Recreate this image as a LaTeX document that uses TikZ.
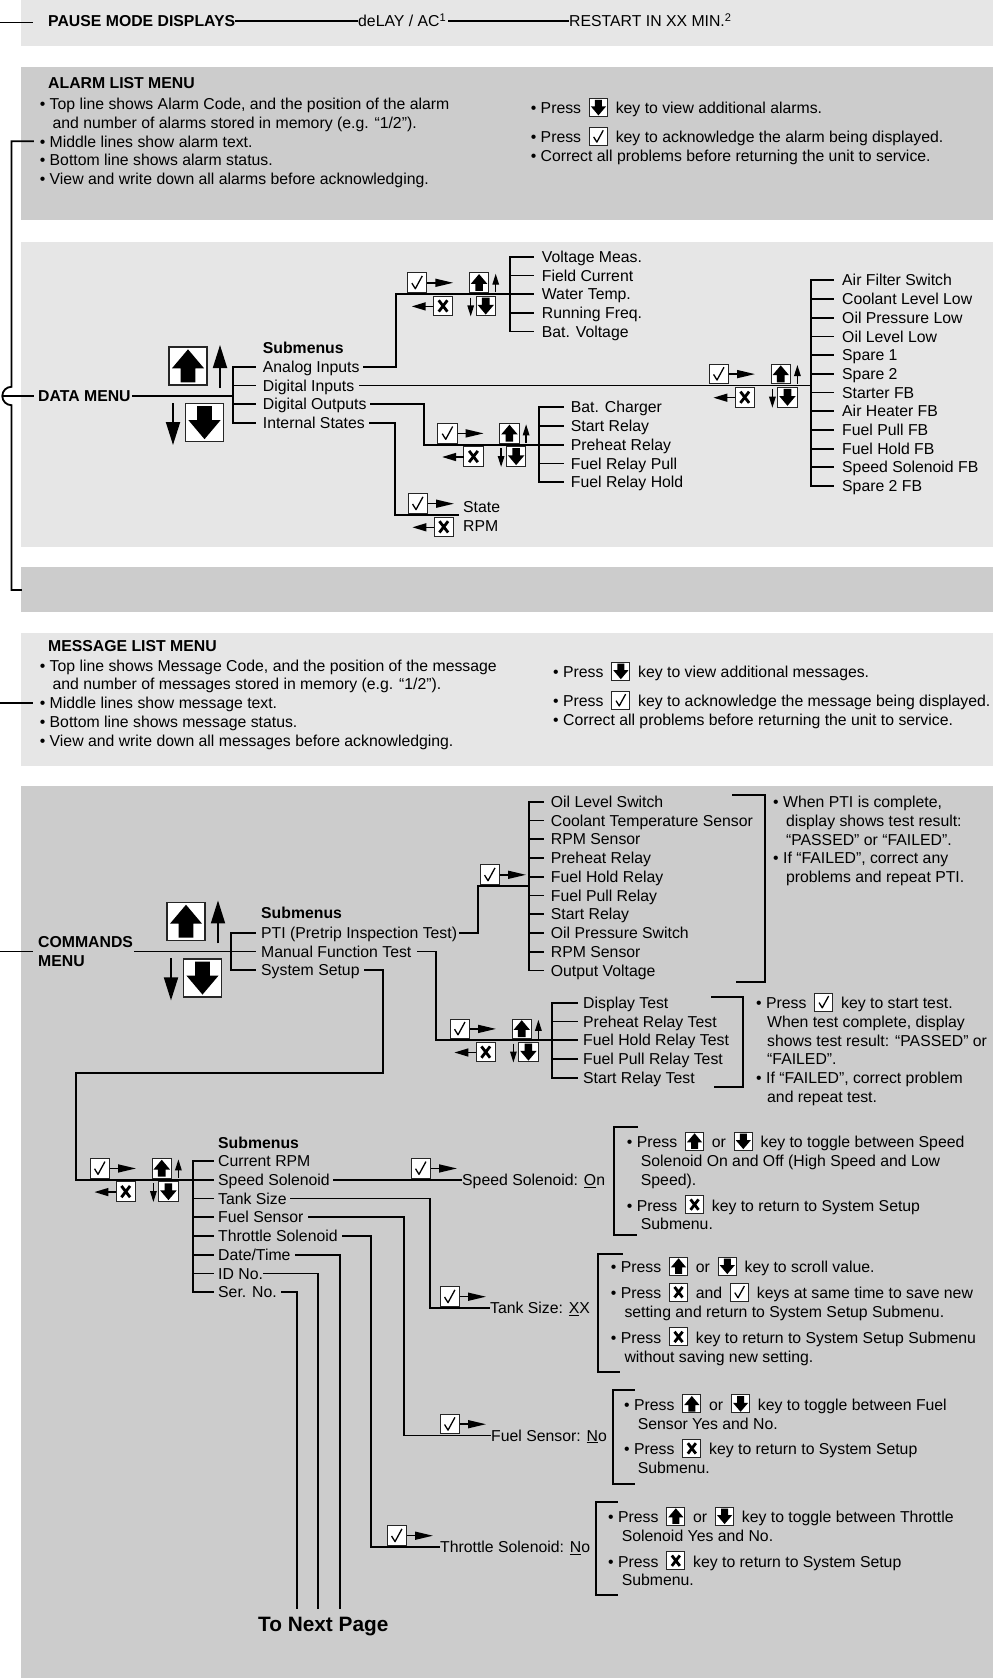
\documentclass[tikz,border=0pt]{standalone}
\usepackage{fontspec}
\setmainfont{Liberation Sans}
\usepackage{tikz}
\usetikzlibrary{arrows.meta}
\usepackage{xcolor}
\definecolor{PanelLight}{HTML}{E6E6E6}
\definecolor{PanelDark}{HTML}{CCCCCC}
\setlength{\parindent}{0pt}
\newcommand\basefont{\fontsize{15.8}{18.7}\selectfont}

% key faces, drawn in an 18x18 box with y upwards
\newcommand\faceup{\fill (9,16.9) -- (16.6,7.9) -- (12.5,7.9) -- (12.5,1.3) -- (5.5,1.3) -- (5.5,7.9) -- (1.4,7.9) -- cycle;}
\newcommand\facedown{\fill (9,1.1) -- (16.6,10.1) -- (12.5,10.1) -- (12.5,16.7) -- (5.5,16.7) -- (5.5,10.1) -- (1.4,10.1) -- cycle;}
\newcommand\faceok{\draw[line width=1.3pt,line join=round] (4.2,8.6) -- (7.4,3.4) -- (13.8,15.2);}
\newcommand\faceno{\draw[line width=2.8pt] (5,3.8) -- (13,14.2) (5,14.2) -- (13,3.8);}

% key inside running text
\newcommand\kbox[1]{\hspace{3.5pt}\smash{\tikz[x=1pt,y=1pt,baseline=2.6pt]{%
  \filldraw[fill=white,draw=black!85,line width=0.9pt] (0,0) rectangle (18,18); #1}}\hspace{3.5pt}}

% key in the chart: [frame], x and y of lower left corner, size, face
\newcommand\keyat[5][1pt]{\begin{scope}[shift={(#2,#3)},yscale=-1,scale=#4/18]
  \filldraw[fill=white,draw=black!85,line width=#1] (0,0) rectangle (18,18); #5
  \end{scope}}

% key groups on a line: left edge of the check key, y of the line
\newcommand\okkey[2]{\keyat{#1}{#2-1.7}{19.5}{\faceok}
  \draw[tiph] (#1+20,#2-11.3) -- (#1+46,#2-11.3);}
\newcommand\okexit[2]{\okkey{#1}{#2}
  \keyat{#1+26}{#2+21.6}{19.5}{\faceno}
  \draw[tiph,-{Triangle[length=14pt,width=8pt]}] (#1+26,#2+12.3) -- (#1+4.4,#2+12.3);}
\newcommand\navkeys[2]{\okexit{#1}{#2}
  \keyat{#1+62}{#2-1.7}{19.5}{\faceup}
  \draw[tipv] (#1+88.4,#2-1.7) -- (#1+88.4,#2-20.4);
  \draw[tipv] (#1+63.4,#2+3.5) -- (#1+63.4,#2+22.3);
  \keyat{#1+68.7}{#2+21.6}{19.5}{\facedown}}
\newcommand\bigkeys[2]{\keyat[1.5pt]{#1}{#2-11}{38}{\faceup}
  \draw[bigtip] (#1+51,#2-8) -- (#1+51,#2-51);
  \draw[bigtip] (#1+4,#2+7) -- (#1+4,#2+49);
  \keyat[1.5pt]{#1+16.5}{#2+45.5}{38}{\facedown}}

\begin{document}
\begin{tikzpicture}[x=1pt, y=-1pt, font=\basefont,
   wire/.style={line width=1.8pt, line cap=rect},
   thinwire/.style={line width=1.3pt},
   lbl/.style={anchor=west, inner sep=0pt, text height=11.3pt, text depth=0pt},
   head/.style={lbl, font=\basefont\bfseries},
   para/.style={anchor=north west, inner sep=0pt, align=left},
   tiph/.style={line width=1.5pt, -{Triangle[length=18pt,width=8pt]}},
   tipv/.style={line width=1.3pt, -{Triangle[length=11pt,width=6.5pt]}},
   bigtip/.style={line width=1.8pt, -{Triangle[length=23pt,width=14pt]}}]
  \useasboundingbox (0,0) rectangle (997,1678);
  % panels
  \fill[PanelLight] (21,0) rectangle (993,46);
  \fill[PanelDark] (21,67) rectangle (993,220);
  \fill[PanelLight] (21,242) rectangle (993,547);
  \fill[PanelDark] (21,567) rectangle (993,612);
  \fill[PanelLight] (21,633) rectangle (993,766);
  \fill[PanelDark] (21,786) rectangle (993,1678);

  % pause mode
  \node[head] (pause) at (48,21) {PAUSE MODE DISPLAYS};
  \node[lbl] (delay) at (358,21) {deLAY / AC\textsuperscript{1}};
  \node[lbl] (restart) at (569,21) {RESTART IN XX MIN.\textsuperscript{2}};
  \coordinate (pauseIn) at (0,22.5);
  \draw[thinwire] (pauseIn) -- ++(33,0);
  \draw[thinwire] (pause.east) -- (delay.west);
  \draw[thinwire] (delay.east) ++(2,0) -- (restart.west);

  % alarm list
  \node[head] (alarm) at (48,82.4) {ALARM LIST MENU};
  \node[para] (alarmtxt) at (39.6,96.4) {\strut• Top line shows Alarm Code, and the position of the alarm\\
    \hspace*{12.8pt}and number of alarms stored in memory (e.g. “1/2”).\\
    • Middle lines show alarm text.\\
    • Bottom line shows alarm status.\\
    • View and write down all alarms before acknowledging.};
  \node[para] (alarmkeys) at (530.6,100.6) {\strut• Press \kbox{\facedown} key to view additional alarms.\\[10.3pt]
    • Press \kbox{\faceok} key to acknowledge the alarm being displayed.\\
    • Correct all problems before returning the unit to service.};
  \coordinate (alarmIn) at (33,141.2);
  \coordinate (hop) at (2.5,396);
  \coordinate (gapIn) at (21,590);
  \draw[wire] (alarmIn) -- (11.5,141.2) -- (11.5,386.8) arc[start angle=270,end angle=90,radius=9.2]
    -- (11.5,590) -- (gapIn);

  % data menu
  \node[head] (data) at (38,396) {DATA MENU};
  \draw[wire] (hop) -- ([xshift=-5pt]data.west);
  \bigkeys{169}{396}
  \node[head] (datasub) at (262.7,348) {Submenus};
  \foreach \t [count=\i] in {Analog Inputs,Digital Inputs,Digital Outputs,Internal States}
    \node[lbl] (dm\i) at (262.7,348+18.7*\i) {\t};
  \coordinate (dmBar) at ([xshift=-30pt]dm1.west);
  \draw[wire] (dmBar) -- (dmBar |- dm4.west);
  \foreach \i in {1,...,4} \draw[wire] (dmBar |- dm\i.west) -- ([xshift=-7.7pt]dm\i.west);
  \draw[wire] (data.east) ++(2,0) -- (dmBar |- data.east);

  \foreach \t [count=\i] in {Voltage Meas.,Field Current,Water Temp.,Running Freq.,Bat. Voltage}
    \node[lbl] (an\i) at (541.7,238+18.7*\i) {\t};
  \coordinate (anBar) at ([xshift=-31.7pt]an1.west);
  \draw[wire] (anBar) -- (anBar |- an5.west);
  \foreach \i in {1,...,5} \draw[wire] (anBar |- an\i.west) -- ([xshift=-8.7pt]an\i.west);
  \draw[wire] (dm1.east) ++(4,0) -| ([xshift=-146pt]an3.west) -- (anBar |- an3.west);
  \navkeys{407.3}{294.1}

  \foreach \t [count=\i] in {Air Filter Switch,Coolant Level Low,Oil Pressure Low,Oil Level Low,Spare 1,Spare 2,Starter FB,Air Heater FB,Fuel Pull FB,Fuel Hold FB,Speed Solenoid FB,Spare 2 FB}
    \node[lbl] (di\i) at (842,261.6+18.7*\i) {\t};
  \coordinate (diBar) at ([xshift=-31pt]di1.west);
  \draw[wire] (diBar) -- (diBar |- di12.west);
  \foreach \i in {1,...,12} \draw[wire] (diBar |- di\i.west) -- ([xshift=-9pt]di\i.west);
  \draw[wire] (dm2.east) ++(5,0) -- (diBar |- dm2.east);
  \navkeys{709}{385.4}

  \foreach \t [count=\i] in {Bat. Charger,Start Relay,Preheat Relay,Fuel Relay Pull,Fuel Relay Hold}
    \node[lbl] (do\i) at (570.7,388.6+18.7*\i) {\t};
  \coordinate (doBar) at ([xshift=-31.7pt]do1.west);
  \draw[wire] (doBar) -- (doBar |- do5.west);
  \foreach \i in {1,...,5} \draw[wire] (doBar |- do\i.west) -- ([xshift=-7.7pt]do\i.west);
  \draw[wire] (dm3.east) ++(4,0) -| ([xshift=-146.7pt]do3.west) -- (doBar |- do3.west);
  \navkeys{437.7}{444.7}

  \node[lbl] (state) at (463,506.7) {State};
  \node[lbl] (rpm) at (463,525.4) {RPM};
  \coordinate (isEnd) at (458,515);
  \draw[wire] (dm4.east) ++(5,0) -| ([xshift=-63pt]isEnd) -- (isEnd);
  \okexit{408}{515}

  % message list
  \node[head] (msg) at (48,646.1) {MESSAGE LIST MENU};
  \node[para] (msgtxt) at (39.6,658) {\strut• Top line shows Message Code, and the position of the message\\
    \hspace*{12.8pt}and number of messages stored in memory (e.g. “1/2”).\\
    • Middle lines show message text.\\
    • Bottom line shows message status.\\
    • View and write down all messages before acknowledging.};
  \node[para] (msgkeys) at (553,664.4) {\strut• Press \kbox{\facedown} key to view additional messages.\\[10.3pt]
    • Press \kbox{\faceok} key to acknowledge the message being displayed.\\
    • Correct all problems before returning the unit to service.};
  \coordinate (msgIn) at (0,702.8);
  \draw[wire] (msgIn) -- ++(32,0);

  % commands menu
  \node[para, font=\basefont\bfseries] (cmd) at (38,934.3) {\strut COMMANDS\\MENU};
  \bigkeys{167}{951.4}
  \node[head] (cmdsub) at (261,913.3) {Submenus};
  \foreach \t [count=\i] in {PTI (Pretrip Inspection Test),Manual Function Test,System Setup}
    \node[lbl] (cm\i) at (261,914+18.7*\i) {\t};
  \coordinate (cmBar) at ([xshift=-30pt]cm1.west);
  \draw[wire] (cmBar) -- (cmBar |- cm3.west);
  \foreach \i in {1,2,3} \draw[wire] (cmBar |- cm\i.west) -- ([xshift=-6pt]cm\i.west);
  \coordinate (cmdIn) at (0,951.4);
  \draw[wire] (cmdIn) -- ++(32,0);
  \draw[wire] (cmd.east |- cm2.west) ++(2,0) -- (cmBar |- cm2.west);

  % PTI
  \foreach \t [count=\i] in {Oil Level Switch,Coolant Temperature Sensor,RPM Sensor,Preheat Relay,Fuel Hold Relay,Fuel Pull Relay,Start Relay,Oil Pressure Switch,RPM Sensor,Output Voltage}
    \node[lbl] (pt\i) at (550.7,782.95+18.75*\i) {\t};
  \coordinate (ptBar) at ([xshift=-21.7pt]pt1.west);
  \draw[wire] (ptBar) -- (ptBar |- pt10.west);
  \foreach \i in {1,...,10} \draw[wire] (ptBar |- pt\i.west) -- ([xshift=-7.7pt]pt\i.west);
  \coordinate (ptIn) at (529,886.1);
  \draw[wire] (cm1.east) ++(3,0) -| ([xshift=-51pt]ptIn) -- (ptIn);
  \okkey{480}{886.1}
  \draw[wire] (733,795) -| (765,981.7) -- (737,981.7);
  \node[para] (ptinote) at (773,794.3) {\strut• When PTI is complete,\\
    \hspace*{12.8pt}display shows test result:\\
    \hspace*{12.8pt}“PASSED” or “FAILED”.\\
    • If “FAILED”, correct any\\
    \hspace*{12.8pt}problems and repeat PTI.};

  % manual function test
  \foreach \t [count=\i] in {Display Test,Preheat Relay Test,Fuel Hold Relay Test,Fuel Pull Relay Test,Start Relay Test}
    \node[lbl] (mf\i) at (583,983.95+18.75*\i) {\t};
  \coordinate (mfBar) at ([xshift=-31.3pt]mf1.west);
  \draw[wire] (mfBar) -- (mfBar |- mf5.west);
  \foreach \i in {1,...,5} \draw[wire] (mfBar |- mf\i.west) -- ([xshift=-6.3pt]mf\i.west);
  \draw[wire] (cm2.east) ++(6,0) -| ([xshift=-147.3pt]mf3.west) -- (mfBar |- mf3.west);
  \navkeys{450}{1040.2}
  \draw[wire] (711.7,996.7) -| (743.3,1086.7) -- (715,1086.7);
  \node[para] (mfnote) at (756,995.3) {\strut• Press \kbox{\faceok} key to start test.\\
    \hspace*{11pt}When test complete, display\\
    \hspace*{11pt}shows test result: “PASSED” or\\
    \hspace*{11pt}“FAILED”.\\
    • If “FAILED”, correct problem\\
    \hspace*{11pt}and repeat test.};

  % system setup
  \node[head] (setsub) at (218,1142.7) {Submenus};
  \foreach \t [count=\i] in {Current RPM,Speed Solenoid,Tank Size,Fuel Sensor,Throttle Solenoid,Date/Time,ID No.,Ser. No.}
    \node[lbl] (st\i) at (218,1142.25+18.75*\i) {\t};
  \coordinate (stBar) at ([xshift=-24.7pt]st1.west);
  \draw[wire] (stBar) -- (stBar |- st8.west);
  \foreach \i in {1,...,8} \draw[wire] (stBar |- st\i.west) -- ([xshift=-5.3pt]st\i.west);
  \coordinate (setupBend) at (383,1072.7);
  \draw[wire] (cm3.east) ++(5,0) -| (setupBend) -| ([xshift=-142pt]st2.west) -- (stBar |- st2.west);
  \navkeys{90}{1179.75}

  \node[lbl] (speed) at (462,1179.75) {Speed Solenoid: \underline{O}n};
  \draw[wire] (st2.east) ++(4,0) -- ([xshift=-1pt]speed.west);
  \okkey{411}{1179.75}
  \draw[wire] (637,1126.7) -| (614,1235) -- (636,1235);
  \node[para] (speednote) at (626.7,1134.3) {\strut• Press \kbox{\faceup} or \kbox{\facedown} key to toggle between Speed\\
    \hspace*{14pt}Solenoid On and Off (High Speed and Low\\
    \hspace*{14pt}Speed).\\[7.3pt]
    • Press \kbox{\faceno} key to return to System Setup\\
    \hspace*{14pt}Submenu.};

  \node[lbl] (tank) at (490,1308) {Tank Size: \underline{X}X};
  \draw[wire] (st3.east) ++(4,0) -| ([xshift=-60pt]tank.west) -- ([xshift=-1pt]tank.west);
  \okkey{440}{1308}
  \draw[wire] (621.7,1254) -| (597.7,1371.7) -- (619,1371.7);
  \node[para] (tanknote) at (610.7,1259.3) {\strut• Press \kbox{\faceup} or \kbox{\facedown} key to scroll value.\\[7.3pt]
    • Press \kbox{\faceno} and \kbox{\faceok} keys at same time to save new\\
    \hspace*{13.6pt}setting and return to System Setup Submenu.\\[7.3pt]
    • Press \kbox{\faceno} key to return to System Setup Submenu\\
    \hspace*{13.6pt}without saving new setting.};

  \node[lbl] (fuel) at (491,1435.5) {Fuel Sensor: \underline{N}o};
  \draw[wire] (st4.east) ++(5,0) -| ([xshift=-87pt]fuel.west) -- ([xshift=-1pt]fuel.west);
  \okkey{440}{1435.5}
  \draw[wire] (634,1390) -| (613,1484) -- (634,1484);
  \node[para] (fuelnote) at (624,1397) {\strut• Press \kbox{\faceup} or \kbox{\facedown} key to toggle between Fuel\\
    \hspace*{13.6pt}Sensor Yes and No.\\[7.1pt]
    • Press \kbox{\faceno} key to return to System Setup\\
    \hspace*{13.6pt}Submenu.};

  \node[lbl] (throttle) at (440,1547) {Throttle Solenoid: \underline{N}o};
  \draw[wire] (st5.east) ++(5,0) -| ([xshift=-69pt]throttle.west) -- ([xshift=-1pt]throttle.west);
  \okkey{387}{1547}
  \draw[wire] (617,1502) -| (596,1595) -- (617,1595);
  \node[para] (throttlenote) at (608,1509.3) {\strut• Press \kbox{\faceup} or \kbox{\facedown} key to toggle between Throttle\\
    \hspace*{13.6pt}Solenoid Yes and No.\\[7.1pt]
    • Press \kbox{\faceno} key to return to System Setup\\
    \hspace*{13.6pt}Submenu.};

  % continued on next page
  \node[lbl, font=\fontsize{20.8}{25}\selectfont\bfseries, text height=14.9pt] (nextpage) at (258,1624) {To Next Page};
  \draw[wire] (st6.east) ++(5,0) -| ([xshift=16.4pt,yshift=8.5pt]nextpage.north);
  \draw[wire] (st7.east) ++(0.5,0) -| ([xshift=-5.3pt,yshift=8.5pt]nextpage.north);
  \draw[wire] (st8.east) ++(5,0) -| ([xshift=-26.6pt,yshift=8.5pt]nextpage.north);
\end{tikzpicture}
\end{document}
